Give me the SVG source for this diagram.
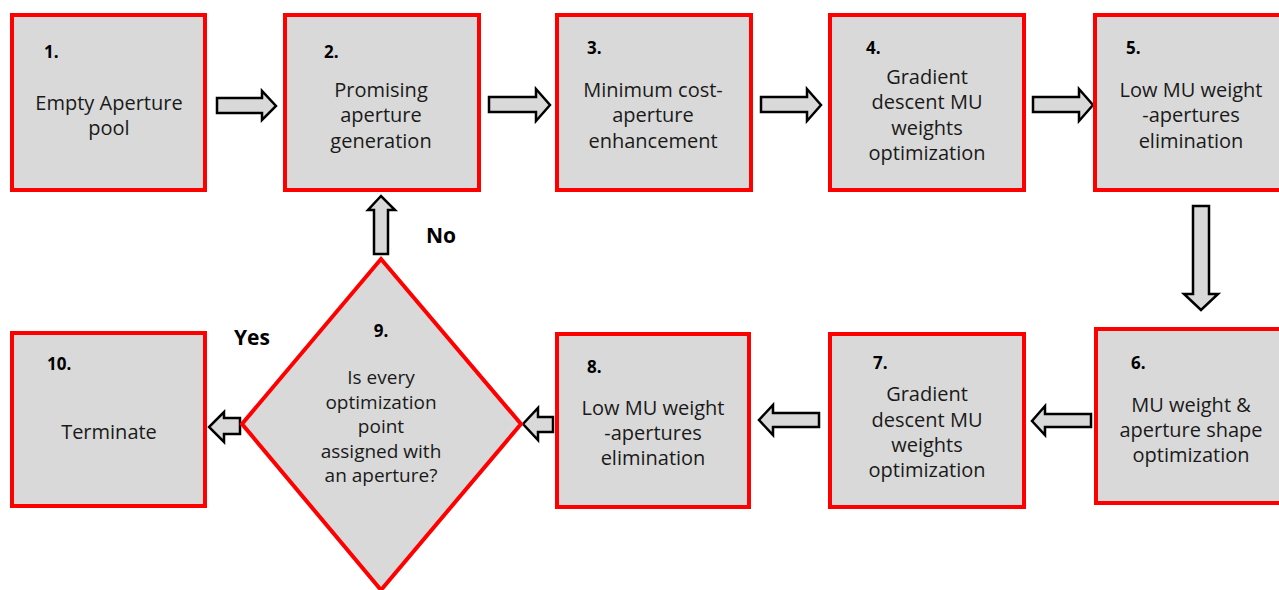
<svg xmlns="http://www.w3.org/2000/svg" width="1279" height="590" viewBox="0 0 1279 590">
<style>
.box{fill:#d9d9d9;stroke:#ff0000;stroke-width:4}
.arr{fill:#d9d9d9;stroke:#000;stroke-width:2.5;stroke-linejoin:miter}
text{font-family:"Open Sans","Noto Sans",sans-serif;fill:#1a1a1a}
.t{font-size:20px;text-anchor:middle}
.d{font-size:19px;text-anchor:middle}
.n{font-size:17px;font-weight:bold;fill:#000}
.lbl{font-size:21px;font-weight:bold;fill:#000}
</style>
<rect width="1279" height="590" fill="#fff"/>
<g id="connectors">
<polygon class="arr" points="217,98 262,98 262,91 276,106 262,120 262,113 217,113"/>
<polygon class="arr" points="489,97 536,97 536,89 550,105 536,121 536,112 489,112"/>
<polygon class="arr" points="761,97 807,97 807,89 821,105 807,121 807,112 761,112"/>
<polygon class="arr" points="1033,97 1079,97 1079,89 1093,105 1079,121 1079,112 1033,112"/>
<polygon class="arr" points="1193,206 1209,206 1209,294 1218,294 1201,310 1184,294 1193,294"/>
<polygon class="arr" points="1091,414 1045,414 1045,406 1032,421 1045,435 1045,427 1091,427"/>
<polygon class="arr" points="819,413 773,413 773,405 759,420 773,435 773,427 819,427"/>
<polygon class="arr" points="553,417 538,417 538,408 523,424 538,440 538,432 553,432"/>
<polygon class="arr" points="240,418 224,418 224,412 209,427 224,442 224,434 240,434"/>
<polygon class="arr" points="374,254 374,210 368,210 381,196 395,210 388,210 388,254"/>
</g>
<g id="node1">
<rect class="box" x="12" y="15" width="193" height="175"/>
<text class="n" x="44" y="58">1.</text>
<text class="t" x="109" y="110">Empty Aperture</text>
<text class="t" x="109" y="135">pool</text>
</g>
<g id="node2">
<rect class="box" x="285" y="15" width="194" height="175"/>
<text class="n" x="324" y="58">2.</text>
<text class="t" x="381" y="97">Promising</text>
<text class="t" x="381" y="122">aperture</text>
<text class="t" x="381" y="148">generation</text>
</g>
<g id="node3">
<rect class="box" x="557" y="15" width="194" height="175"/>
<text class="n" x="587" y="54">3.</text>
<text class="t" x="653" y="97">Minimum cost-</text>
<text class="t" x="653" y="122">aperture</text>
<text class="t" x="653" y="148">enhancement</text>
</g>
<g id="node4">
<rect class="box" x="830" y="15" width="194" height="175"/>
<text class="n" x="866" y="54">4.</text>
<text class="t" x="927" y="84">Gradient</text>
<text class="t" x="927" y="109">descent MU</text>
<text class="t" x="927" y="135">weights</text>
<text class="t" x="927" y="160">optimization</text>
</g>
<g id="node5">
<rect class="box" x="1095" y="15" width="194" height="175"/>
<text class="n" x="1126" y="54">5.</text>
<text class="t" x="1191" y="97">Low MU weight</text>
<text class="t" x="1191" y="122">-apertures</text>
<text class="t" x="1191" y="148">elimination</text>
</g>
<g id="node6">
<rect class="box" x="1096" y="329" width="194" height="174"/>
<text class="n" x="1131" y="369">6.</text>
<text class="t" x="1191" y="412">MU weight &amp;</text>
<text class="t" x="1191" y="437">aperture shape</text>
<text class="t" x="1191" y="462">optimization</text>
</g>
<g id="node7">
<rect class="box" x="830" y="334" width="194" height="173"/>
<text class="n" x="873" y="369">7.</text>
<text class="t" x="927" y="401">Gradient</text>
<text class="t" x="927" y="427">descent MU</text>
<text class="t" x="927" y="452">weights</text>
<text class="t" x="927" y="477">optimization</text>
</g>
<g id="node8">
<rect class="box" x="557" y="334" width="192" height="173"/>
<text class="n" x="587" y="373">8.</text>
<text class="t" x="653" y="415">Low MU weight</text>
<text class="t" x="653" y="440">-apertures</text>
<text class="t" x="653" y="465">elimination</text>
</g>
<g id="node9">
<polygon class="box" points="381,259 521,424 381,590 242,424"/>
<text class="n" x="381" y="337" text-anchor="middle">9.</text>
<text class="d" x="381" y="384">Is every</text>
<text class="d" x="381" y="408.5">optimization</text>
<text class="d" x="381" y="433">point</text>
<text class="d" x="381" y="457.5">assigned with</text>
<text class="d" x="381" y="482">an aperture?</text>
</g>
<g id="node10">
<rect class="box" x="12" y="333" width="193" height="173"/>
<text class="n" x="47" y="370">10.</text>
<text class="t" x="109" y="439">Terminate</text>
</g>
<g id="labels">
<text class="lbl" x="426" y="243">No</text>
<text class="lbl" x="234" y="345">Yes</text>
</g>
</svg>
